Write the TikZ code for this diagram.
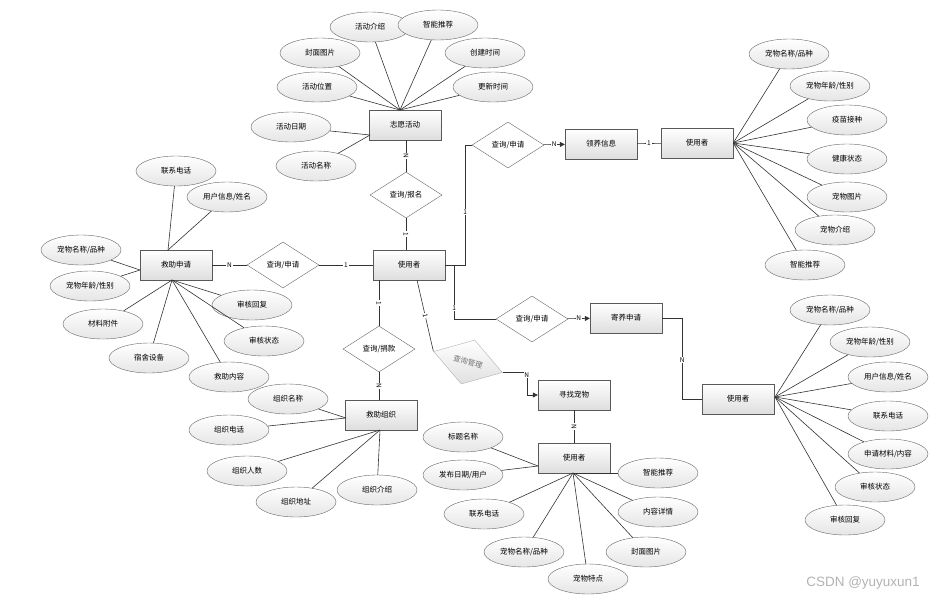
\documentclass[tikz,border=0pt]{standalone}
\usepackage{fontspec}
\setmainfont{Noto Sans CJK SC}
\newfontfamily\wmfont{Liberation Sans}
\usepackage{tikz}
\usetikzlibrary{arrows.meta,shapes.geometric}
\tikzset{
  entity/.style={draw=black!65, top color=white, bottom color=black!13, minimum width=72pt, minimum height=30pt, inner sep=1pt},
  attrib/.style={ellipse, draw=black!60, top color=white, bottom color=black!10, minimum width=80pt, minimum height=30pt, inner sep=0pt},
  relat/.style={diamond, draw=black!60, fill=white, minimum width=72pt, minimum height=46pt, inner sep=0pt},
  link/.style={draw=black!80, line width=0.6pt},
  arr/.style={link, -{Triangle[length=5pt,width=5pt]}},
  card/.style={fill=white, inner sep=0.8pt, font=\fontsize{6.5}{7}\selectfont}
}
\newcommand {\attr}[4] {\node[attrib] (#1) at (#2) {#3};
                        \draw[link] (#1) -- (#4);}

\begin{document}
\begin{tikzpicture}[x=1pt, y=-1pt, font=\fontsize{7.5}{9}\selectfont]
	\useasboundingbox (0,0) rectangle (941,600);
	% volunteer activity
	\node[entity] (hd) at (405,125) {志愿活动};
	\coordinate (hdT) at (400,110);
	\coordinate (hdL) at (370,135);
	\attr{hd1}{370,27}{活动介绍}{hdT}
	\attr{hd2}{438,25}{智能推荐}{hdT}
	\attr{hd3}{320,53}{封面图片}{hdT}
	\attr{hd4}{485,53}{创建时间}{hdT}
	\attr{hd5}{317,87}{活动位置}{hdT}
	\attr{hd6}{493,87}{更新时间}{hdT}
	\attr{hd7}{291,127}{活动日期}{hdL}
	\attr{hd8}{316,166}{活动名称}{hdL}
	% central user
	\node[entity] (user) at (409,265) {使用者};
	\node[relat] (bm) at (406,195) {查询/报名};
	\draw[link] (bm.north |- hd.south) -- node[card,sloped]{N} (bm.north);
	\draw[link] (bm.south) -- node[card,sloped]{1} (bm.south |- user.north);
	% rescue application
	\node[relat] (sq1) at (283,265) {查询/申请};
	\node[entity] (jz) at (176,265) {救助申请};
	\draw[link] (jz) -- node[card]{N} (sq1);
	\draw[link] (sq1) -- node[card]{1} (user);
	\coordinate (jzT) at (168,250);
	\coordinate (jzL) at (140,270);
	\coordinate (jzB) at (172,280);
	\attr{jz1}{176,171}{联系电话}{jzT}
	\attr{jz2}{227,197}{用户信息/姓名}{jzT}
	\attr{jz3}{81,250}{宠物名称/品种}{jzL}
	\attr{jz4}{90,286}{宠物年龄/性别}{jzL}
	\attr{jz5}{103,324}{材料附件}{jzB}
	\attr{jz6}{149,358}{宿舍设备}{jzB}
	\attr{jz7}{252,305}{审核回复}{jzB}
	\attr{jz8}{264,341}{审核状态}{jzB}
	\attr{jz9}{229,377}{救助内容}{jzB}
	% rescue organisation
	\node[relat] (jk) at (379,349) {查询/捐款};
	\node[entity] (zz) at (381,415) {救助组织};
	\draw[link] (jk.north |- user.south) -- node[card,sloped]{1} (jk.north);
	\draw[link] (jk.south) -- node[card,sloped]{N} (jk.south |- zz.north);
	\coordinate (zzL) at (346,418);
	\coordinate (zzB) at (380,430);
	\attr{zz1}{288,399}{组织名称}{zzL}
	\attr{zz2}{229,430}{组织电话}{zzL}
	\attr{zz3}{247,471}{组织人数}{zzB}
	\attr{zz4}{296,502}{组织地址}{zzB}
	\attr{zz5}{377,490}{组织介绍}{zzB}
	% lost pets
	\node[relat, rotate=-17, draw=black!30, top color=white, bottom color=black!12, text=black!55] (gl) at (468,362) {查询管理};
	\node[entity] (xz) at (574,395) {寻找宠物};
	\coordinate (uB) at (417,280);
	\draw[link] (uB) -- node[card,sloped]{1} (gl.west);
	\draw[arr] (gl.east) -| node[card,pos=0.56]{N} ([xshift=-11pt]xz.west) -- (xz.west);
	\node[entity] (fb) at (574,458) {使用者};
	\draw[link] (xz) -- node[card,sloped]{N} (fb);
	\coordinate (fbL) at (538,466);
	\coordinate (fbB) at (573,473);
	\attr{fb1}{463,437}{标题名称}{fbL}
	\attr{fb2}{463,475}{发布日期/用户}{fbL}
	\attr{fb3}{484,514}{联系电话}{fbB}
	\attr{fb4}{524,552}{宠物名称/品种}{fbB}
	\attr{fb5}{588,579}{宠物特点}{fbB}
	\attr{fb6}{646,552}{封面图片}{fbB}
	\attr{fb7}{658,512}{内容详情}{fbB}
	\attr{fb8}{658,473}{智能推荐}{fbB}
	% adoption
	\node[relat] (sq2) at (508,145) {查询/申请};
	\node[entity] (ly) at (601,144) {领养信息};
	\node[entity] (u2) at (697,143) {使用者};
	\draw[link] (user.east) -- ++(20,0) |- node[card,pos=0.22]{1} (sq2.west);
	\draw[arr] (sq2) -- node[card]{N} (ly);
	\draw[link] (ly) -- node[card]{1} (u2);
	\attr{a1}{789,54}{宠物名称/品种}{u2.east}
	\attr{a2}{830,86}{宠物年龄/性别}{u2.east}
	\attr{a3}{847,120}{疫苗接种}{u2.east}
	\attr{a4}{847,159}{健康状态}{u2.east}
	\attr{a5}{847,197}{宠物图片}{u2.east}
	\attr{a6}{835,230}{宠物介绍}{u2.east}
	\attr{a7}{805,265}{智能推荐}{u2.east}
	% foster care
	\node[relat] (sq3) at (532,319) {查询/申请};
	\node[entity] (jy) at (626,318) {寄养申请};
	\node[entity] (u3) at (738,399) {使用者};
	\coordinate (uJ) at ([xshift=9pt]user.east);
	\draw[link] (uJ) |- node[card,pos=0.4]{1} (sq3.west);
	\draw[arr] (sq3) -- node[card]{N} (jy);
	\draw[link] (jy.east) -- ++(20,0) |- node[card,pos=0.26]{N} (u3.west);
	\coordinate (u3R) at (775,397);
	\attr{b1}{830,310}{宠物名称/品种}{u3R}
	\attr{b2}{870,342}{宠物年龄/性别}{u3R}
	\attr{b3}{888,377}{用户信息/姓名}{u3R}
	\attr{b4}{888,416}{联系电话}{u3R}
	\attr{b5}{888,454}{申请材料/内容}{u3R}
	\attr{b6}{875,487}{审核状态}{u3R}
	\attr{b7}{845,520}{审核回复}{u3R}
	% watermark
	\node[text=black!30, font=\wmfont\fontsize{13.5}{15}\selectfont] (wm) at (863,583) {CSDN @yuyuxun1};
\end{tikzpicture}
\end{document}
